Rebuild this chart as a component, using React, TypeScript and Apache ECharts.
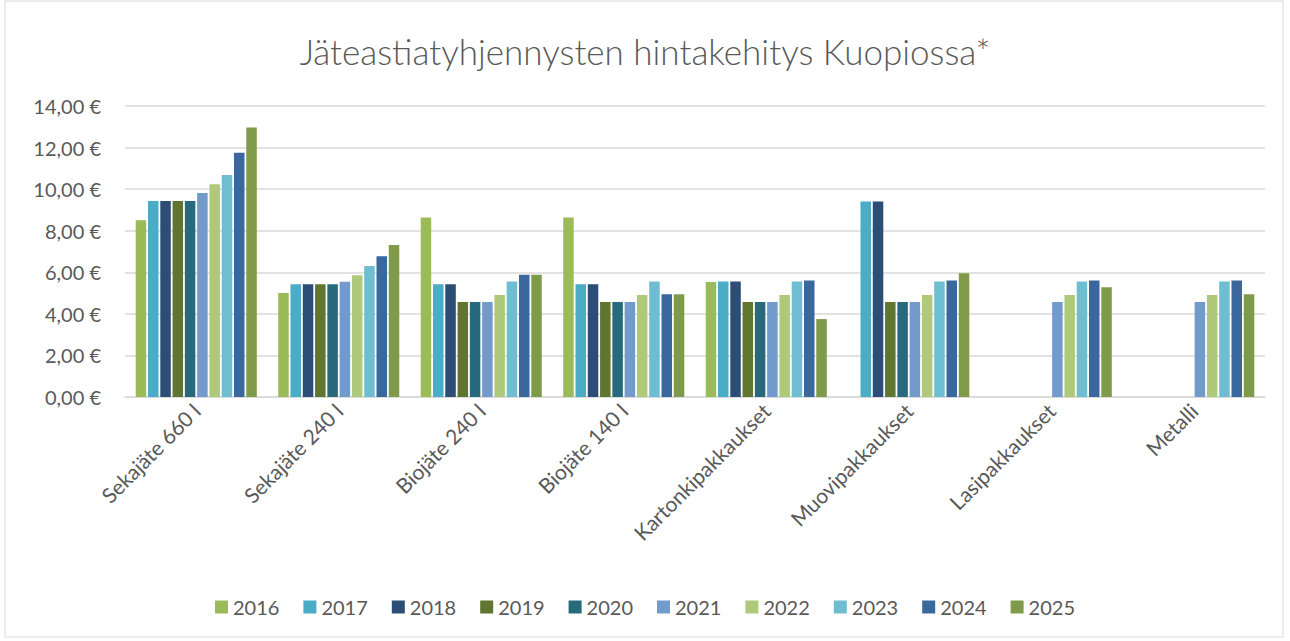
import React, { useEffect, useRef } from "react";
import * as echarts from "echarts";

const categories = [
  "Sekajäte 660 l",
  "Sekajäte 240 l",
  "Biojäte 240 l",
  "Biojäte 140 l",
  "Kartonkipakkaukset",
  "Muovipakkaukset",
  "Lasipakkaukset",
  "Metalli",
];

const years = ["2016", "2017", "2018", "2019", "2020", "2021", "2022", "2023", "2024", "2025"];

const v2016 = [8.5, 5.0, 8.64, 8.64, 5.53, null, null, null];
const v2017 = [9.43, 5.42, 5.42, 5.42, 5.56, 9.41, null, null];
const v2018 = [9.43, 5.42, 5.42, 5.42, 5.56, 9.41, null, null];
const v2019 = [9.43, 5.42, 4.57, 4.57, 4.57, 4.57, null, null];
const v2020 = [9.43, 5.42, 4.57, 4.57, 4.57, 4.57, null, null];
const v2021 = [9.82, 5.55, 4.57, 4.57, 4.57, 4.57, 4.57, 4.57];
const v2022 = [10.23, 5.86, 4.91, 4.91, 4.91, 4.91, 4.91, 4.91];
const v2023 = [10.68, 6.3, 5.56, 5.56, 5.56, 5.56, 5.56, 5.56];
const v2024 = [11.75, 6.77, 5.88, 4.94, 5.61, 5.61, 5.61, 5.61];
const v2025 = [12.97, 7.31, 5.88, 4.94, 3.75, 5.95, 5.28, 4.94];

const values = [v2016, v2017, v2018, v2019, v2020, v2021, v2022, v2023, v2024, v2025];

const colors = [
  "#9BBB59",
  "#4BACC6",
  "#2C4D75",
  "#5F7530",
  "#276A7C",
  "#729ACA",
  "#AFC97A",
  "#6FBDD1",
  "#3A679C",
  "#7F9A48",
];

const FONT = "Lato, 'Open Sans', sans-serif";

export default function App() {
  const ref = useRef<HTMLDivElement>(null);

  useEffect(() => {
    if (!ref.current) return;
    const chart = echarts.init(ref.current, undefined, { renderer: "svg" });
    chart.setOption({
      animation: false,
      color: colors,
      textStyle: { fontFamily: FONT },
      graphic: [
        {
          type: "rect",
          shape: { x: 5, y: 1, width: 1278, height: 636 },
          style: { fill: "none", stroke: "#d9d9d9", lineWidth: 1 },
          silent: true,
        },
      ],
      title: {
        text: "Jäteastiatyhjennysten hintakehitys Kuopiossa*",
        left: "center",
        top: 28,
        textStyle: {
          fontFamily: FONT,
          fontSize: 35,
          fontWeight: 300,
          color: "#595959",
        },
      },
      legend: {
        bottom: 19,
        left: "center",
        itemWidth: 13,
        itemHeight: 13,
        itemGap: 24,
        icon: "rect",
        textStyle: { fontFamily: FONT, fontSize: 20, color: "#595959" },
        data: years,
      },
      grid: { left: 125, right: 25, top: 106, bottom: 244 },
      xAxis: {
        type: "category",
        data: categories,
        axisLine: { lineStyle: { color: "#d9d9d9", width: 1.5 } },
        axisTick: { show: false },
        axisLabel: {
          rotate: 45,
          fontSize: 21,
          color: "#595959",
          fontFamily: FONT,
          margin: 10,
          interval: 0,
        },
      },
      yAxis: {
        type: "value",
        min: 0,
        max: 14,
        interval: 2,
        axisLine: { show: false },
        axisTick: { show: false },
        splitLine: { lineStyle: { color: "#d9d9d9", width: 1.5 } },
        axisLabel: {
          fontSize: 20,
          color: "#595959",
          fontFamily: FONT,
          margin: 24,
          formatter: (v: number) => v.toFixed(2).replace(".", ",") + " €",
        },
      },
      series: years.map((y, i) => ({
        name: y,
        type: "bar",
        data: values[i],
        barWidth: 10.5,
        barGap: "17%",
        itemStyle: { color: colors[i] },
      })),
    });
    return () => chart.dispose();
  }, []);

  return (
    <div
      ref={ref}
      style={{ position: "fixed", left: 0, top: 0, width: 1290, height: 641, background: "#fff" }}
    />
  );
}
